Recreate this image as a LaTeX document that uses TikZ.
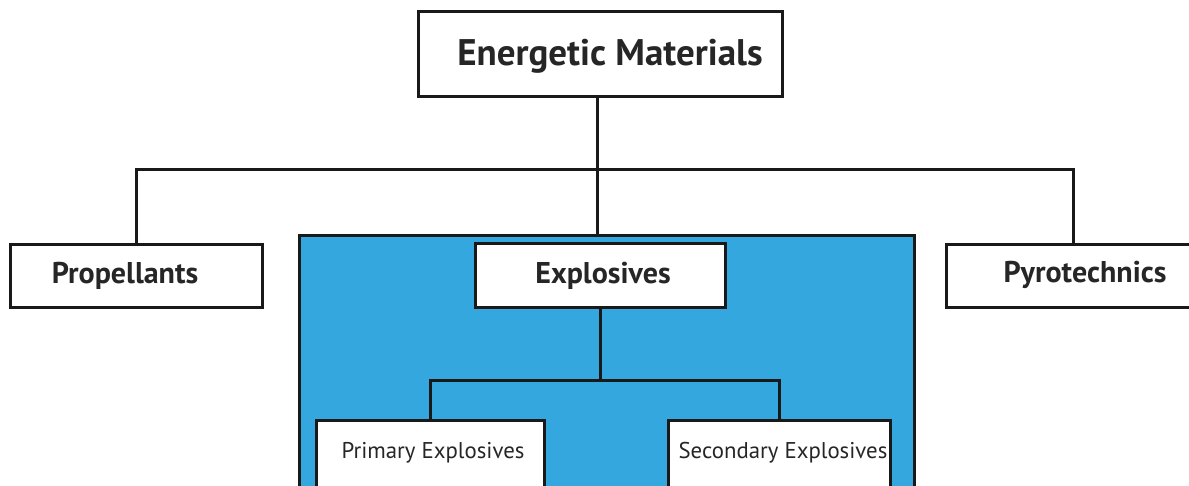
\documentclass[tikz,border=0pt]{standalone}
\usepackage{fontspec}
\setmainfont{PT Sans}
\definecolor{exblue}{HTML}{35A7DF}
\begin{document}
\begin{tikzpicture}[x=1pt,y=-1pt,
  box/.style={draw=black!90, line width=3pt, fill=white, inner sep=0pt},
  conn/.style={draw=black!90, line width=3pt},
  big/.style={font=\fontsize{37}{39}\selectfont\bfseries, text=black!85},
  mid/.style={font=\fontsize{30}{32}\selectfont\bfseries, text=black!85},
  small/.style={font=\fontsize{22.8}{25}\selectfont, text=black!85}]
\useasboundingbox (0,0) rectangle (1189,486);
\clip (0,0) rectangle (1189,486);
% blue panel
\node[draw=black!90, line width=3pt, fill=exblue, minimum width=615pt, minimum height=400pt, inner sep=0pt] (panel) at (606.5,436) {};
% boxes
\node[box, minimum width=364pt, minimum height=85pt] (em) at (600,54.5) {};
\node[big] (emt) at (610,56) {Energetic Materials};
\node[box, minimum width=252pt, minimum height=63pt] (prop) at (136,276.5) {};
\node[mid] (propt) at (125,276) {Propellants};
\node[box, minimum width=254pt, minimum height=63pt] (pyro) at (1073,276.5) {};
\node[mid] (pyrot) at (1085,275) {Pyrotechnics};
\node[box, minimum width=250pt, minimum height=64pt] (ex) at (600,276) {};
\node[mid] (ext) at (603,276) {Explosives};
\node[box, minimum width=228pt, minimum height=100pt] (prim) at (430,470) {};
\node[small] (primt) at (433,453) {Primary Explosives};
\node[box, minimum width=222pt, minimum height=100pt] (sec) at (779,470) {};
\node[small] (sect) at (783,453) {Secondary Explosives};
% connectors
\coordinate (bus) at (597,170);
\coordinate (bus2) at (600,380);
\draw[conn] (em.south -| bus) -- (panel.north -| bus);
\draw[conn] (prop.north) -- (prop.north |- bus) -- (pyro.north |- bus) -- (pyro.north);
\draw[conn] (ex.south) -- (bus2);
\draw[conn] (prim.north) -- (prim.north |- bus2) -- (sec.north |- bus2) -- (sec.north);
\end{tikzpicture}
\end{document}
